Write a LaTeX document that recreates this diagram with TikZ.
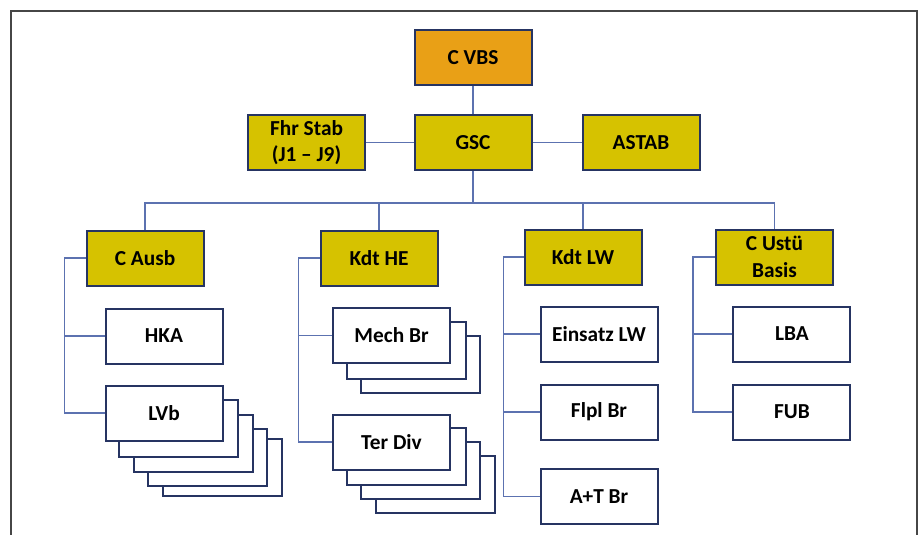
\documentclass[tikz,border=0pt]{standalone}
\usepackage{fontspec}
\setmainfont{Carlito}
\usetikzlibrary{positioning,backgrounds}
\definecolor{unitgold}{RGB}{214,194,0}
\definecolor{chieforange}{RGB}{233,160,22}
\definecolor{boxline}{RGB}{38,52,98}
\definecolor{linkblue}{RGB}{92,114,176}
\definecolor{framegray}{RGB}{70,70,70}
\tikzset{
  unit/.style={
    draw=boxline, line width=1.5pt,
    minimum width=87.75pt, minimum height=41.25pt,
    inner sep=2pt, align=center,
    font=\fontsize{16}{20}\selectfont\bfseries
  },
  chief/.style={unit, fill=chieforange},
  staff/.style={unit, fill=unitgold},
  sub/.style={unit, fill=white},
  card/.style={draw=boxline, line width=1.5pt, fill=white},
  link/.style={draw=linkblue, line width=0.8pt},
  frame/.style={draw=framegray, line width=1.1pt}
}

\begin{document}
\begin{tikzpicture}[x=0.75pt, y=-0.75pt]
\useasboundingbox (0,0) rectangle (922,535);
\clip (0,0) rectangle (922,535);

% ---------- Frame ----------
\draw[frame] (11,545) |- (917,11) -- (917,545);

% ---------- Top level ----------
\node[chief] (vbs) at (473,57.5) {C VBS};
\node[staff, below=21pt of vbs] (gsc) {GSC};
\node[staff, left=35.6pt of gsc] (fhr) {Fhr Stab\\(J1 – J9)};
\node[staff, right=36.75pt of gsc] (astab) {ASTAB};

\draw[link] (vbs) -- (gsc);
\draw[link] (fhr) -- (gsc);
\draw[link] (gsc) -- (astab);

% ---------- Commands ----------
\node[staff] (ausb) at (145,258) {C Ausb};
\node[staff] (he)   at (379,258) {Kdt HE};
\node[staff] (lw)   at (583,257) {Kdt LW};
\node[staff] (ustu) at (774.5,257) {C Ustü\\Basis};

\draw[link] (gsc.south) -- ++(0,32) coordinate (bus);
\draw[link] (ausb.north) |- (bus) -| (ustu.north);
\draw[link] (he.north) -- (he.north |- bus);
\draw[link] (lw.north) -- (lw.north |- bus);

% ---------- Ausbildung ----------
\node[sub, below=15.75pt of ausb, xshift=14.25pt] (hka) {HKA};
\node[sub, below=15pt of hka] (lvb) {LVb};
\draw[link] (ausb.west) -- ++(-21,0) coordinate (ausbrail) |- (lvb.west);
\draw[link] (hka.west) -- (hka.west -| ausbrail);

% ---------- Heer ----------
\node[sub, below=15.4pt of he, xshift=9.4pt] (mech) {Mech Br};
\node[sub, below=37.1pt of mech] (ter) {Ter Div};
\draw[link] (he.west) -- ++(-21,0) coordinate (herail) |- (ter.west);
\draw[link] (mech.west) -- (mech.west -| herail);

% ---------- Luftwaffe ----------
\node[sub, below=15pt of lw, xshift=12pt] (eins) {Einsatz LW};
\node[sub, below=15.75pt of eins] (flpl) {Flpl Br};
\node[sub, below=20.6pt of flpl] (atbr) {A+T Br};
\draw[link] (lw.west) -- ++(-20,0) coordinate (lwrail) |- (atbr.west);
\draw[link] (eins.west) -- (eins.west -| lwrail);
\draw[link] (flpl.west) -- (flpl.west -| lwrail);

% ---------- Unterstuetzung ----------
\node[sub, below=15pt of ustu, xshift=13.1pt] (lba) {LBA};
\node[sub, below=15.75pt of lba] (fub) {FUB};
\draw[link] (ustu.west) -- ++(-22,0) coordinate (usturail) |- (fub.west);
\draw[link] (lba.west) -- (lba.west -| usturail);

% ---------- Stacked units ----------
\begin{scope}[on background layer]
  \foreach \dx/\dy in {58/54, 43.5/44, 29/30, 14.5/15}
    \draw[card] ([shift={(\dx,\dy)}]lvb.south west) rectangle ([shift={(\dx,\dy)}]lvb.north east);
  \foreach \k in {2,1}
    \draw[card] ([shift={(\k*14.5,\k*14.5)}]mech.south west) rectangle ([shift={(\k*14.5,\k*14.5)}]mech.north east);
  \foreach \k in {3,2,1}
    \draw[card] ([shift={(\k*14.5,\k*14.3)}]ter.south west) rectangle ([shift={(\k*14.5,\k*14.3)}]ter.north east);
\end{scope}

\end{tikzpicture}
\end{document}
